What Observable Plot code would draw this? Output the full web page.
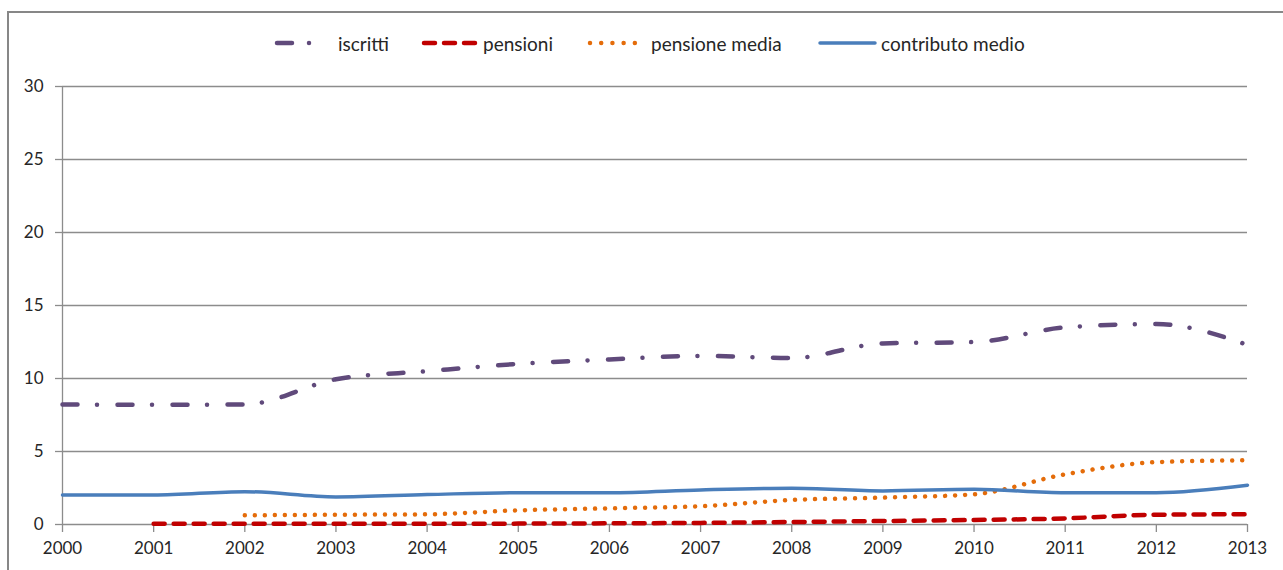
<!DOCTYPE html>
<html>
<head>
<meta charset="utf-8">
<script src="https://cdn.jsdelivr.net/npm/d3@7"></script>
<script src="https://cdn.jsdelivr.net/npm/@observablehq/plot@0.6"></script>
<style>
  html, body { margin: 0; padding: 0; background: #fff; }
  #wrap { position: relative; width: 1283px; height: 570px; overflow: hidden; font-family: Lato, "Open Sans", sans-serif; }
  #frame { position: absolute; left: 7px; top: 11px; width: 1300px; height: 600px; border-left: 2px solid #878787; border-top: 2px solid #878787; }
  #chart { position: absolute; left: 0; top: 0; }
  #legend { position: absolute; top: 30px; left: 0; width: 1283px; height: 26px; font-size: 19px; color: #262626; }
  .item { position: absolute; top: 0; height: 26px; display: flex; align-items: center; white-space: nowrap; }
  .item svg { display: block; }
</style>
</head>
<body>
<div id="wrap">
  <div id="frame"></div>
  <div id="chart"></div>
  <div id="legend"></div>
</div>
<script>
const years = [2000, 2001, 2002, 2003, 2004, 2005, 2006, 2007, 2008, 2009, 2010, 2011, 2012, 2013];
const iscritti = [8.22, 8.2, 8.22, 9.95, 10.5, 11.0, 11.3, 11.55, 11.4, 12.4, 12.5, 13.5, 13.73, 12.3];
const pensioni = [null, 0.05, 0.05, 0.05, 0.05, 0.06, 0.08, 0.11, 0.17, 0.24, 0.31, 0.42, 0.67, 0.7];
const pensioneMedia = [null, null, 0.63, 0.67, 0.7, 0.97, 1.11, 1.25, 1.68, 1.84, 2.07, 3.44, 4.27, 4.4];
const contributoMedio = [2.02, 2.02, 2.25, 1.89, 2.05, 2.18, 2.18, 2.37, 2.48, 2.3, 2.41, 2.18, 2.18, 2.69];
const yTicks = [0, 5, 10, 15, 20, 25, 30];
const seriesNames = ["iscritti", "pensioni", "pensione media", "contributo medio"];
const seriesValues = [iscritti, pensioni, pensioneMedia, contributoMedio];

const styles = {
  "iscritti": {stroke: "#604A7B", strokeWidth: 4.5, dash: "15,19.5,0.01,20.5"},
  "pensioni": {stroke: "#C00000", strokeWidth: 4.5, dash: "11,9"},
  "pensione media": {stroke: "#E46C0A", strokeWidth: 4.5, dash: "0.01,10"},
  "contributo medio": {stroke: "#4A7EBB", strokeWidth: 3.5, dash: null}
};

const rows = seriesNames.map((name, i) => years.map((y, j) => ({series: name, year: y, value: seriesValues[i][j]})));

const gray = "#8c8c8c";
const lineMarks = rows.map(data => {
  const s = styles[data[0].series];
  return Plot.line(data, {
    x: "year", y: "value", curve: "monotone-x",
    stroke: s.stroke, strokeWidth: s.strokeWidth,
    strokeDasharray: s.dash || undefined,
    strokeLinecap: "round", strokeLinejoin: "round"
  });
});

const plot = Plot.plot({
  width: 1283,
  height: 570,
  marginTop: 86,
  marginLeft: 62,
  marginRight: 36,
  marginBottom: 46,
  style: {fontFamily: "Lato, 'Open Sans', sans-serif", fontSize: "17px", color: "#262626", background: "transparent"},
  x: {domain: [2000, 2013]},
  y: {domain: [0, 30]},
  marks: [
    Plot.ruleY(yTicks, {stroke: gray, strokeWidth: 1.3}),
    Plot.ruleX([2000], {stroke: gray, strokeWidth: 1.3}),
    Plot.axisY({ticks: yTicks, tickSize: 7, tickPadding: 12, stroke: gray, strokeWidth: 1.3, label: null, fill: "#262626"}),
    Plot.axisX({ticks: years, tickSize: 8, tickPadding: 9, tickFormat: d => String(d), stroke: gray, strokeWidth: 1.3, label: null, fill: "#262626"}),
    ...lineMarks
  ]
});
document.getElementById("chart").appendChild(plot);

// Legend
const legendPos = [
  {name: "iscritti", x: 274, w: 58, gapText: 6},
  {name: "pensioni", x: 421, w: 58, gapText: 4},
  {name: "pensione media", x: 587, w: 61, gapText: 3},
  {name: "contributo medio", x: 817, w: 61, gapText: 3}
];
const legend = d3.select("#legend");
legendPos.forEach(p => {
  const s = styles[p.name];
  const item = legend.append("div").attr("class", "item").style("left", p.x + "px");
  const svg = item.append("svg").attr("width", p.w).attr("height", 26);
  svg.append("line")
    .attr("x1", 3).attr("x2", p.w - 3).attr("y1", 13).attr("y2", 13)
    .attr("stroke", s.stroke).attr("stroke-width", s.strokeWidth)
    .attr("stroke-linecap", "round")
    .attr("stroke-dasharray", p.name === "iscritti" ? "15,17,0.01,30" : p.name === "pensione media" ? "0.01,11.2" : s.dash);
  item.append("span").style("margin-left", p.gapText + "px").text(p.name);
});
</script>
</body>
</html>
